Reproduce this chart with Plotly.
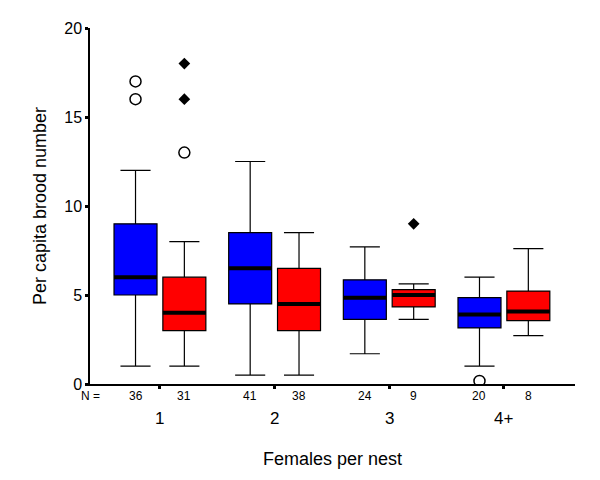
import plotly.graph_objects as go

groups = ["1", "2", "3", "4+"]
n_blue = [36, 41, 24, 20]
n_red = [31, 38, 9, 8]

blue_lower = [1.0, 0.5, 1.7, 1.0]
blue_q1 = [5.0, 4.5, 3.63, 3.15]
blue_med = [6.0, 6.5, 4.85, 3.9]
blue_q3 = [9.0, 8.5, 5.85, 4.85]
blue_upper = [12.0, 12.5, 7.7, 6.0]

red_lower = [1.0, 0.5, 3.63, 2.72]
red_q1 = [3.0, 3.0, 4.33, 3.56]
red_med = [4.0, 4.5, 5.0, 4.07]
red_q3 = [6.0, 6.5, 5.3, 5.22]
red_upper = [8.0, 8.5, 5.63, 7.6]

# outliers (group index, value)
blue_out_grp = [0, 0, 3]
blue_out_val = [16.0, 17.0, 0.17]
red_out_grp = [0]
red_out_val = [13.0]
red_ext_grp = [0, 0, 2]
red_ext_val = [16.0, 18.0, 9.0]

OFF = 0.213
W = 0.375
FONT = "Liberation Sans, Arial, Helvetica, sans-serif"

bx = [i - OFF for i in range(len(groups))]
rx = [i + OFF for i in range(len(groups))]

fig = go.Figure()

for xs, lo, q1, md, q3, up, col in [
    (bx, blue_lower, blue_q1, blue_med, blue_q3, blue_upper, "#0000FF"),
    (rx, red_lower, red_q1, red_med, red_q3, red_upper, "#FF0000"),
]:
    fig.add_trace(go.Box(
        x=xs, q1=q1, median=md, q3=q3, lowerfence=lo, upperfence=up,
        width=W, whiskerwidth=0.7, fillcolor=col,
        line=dict(color="black", width=1.2), boxpoints=False,
        showlegend=False, hoverinfo="skip",
    ))
    mx, my = [], []
    for x, m in zip(xs, md):
        mx += [x - W / 2, x + W / 2, None]
        my += [m, m, None]
    fig.add_trace(go.Scatter(x=mx, y=my, mode="lines",
                             line=dict(color="black", width=4),
                             showlegend=False, hoverinfo="skip"))

circ = dict(symbol="circle-open", size=11, color="black", line=dict(width=1.5, color="black"))
fig.add_trace(go.Scatter(x=[g - OFF for g in blue_out_grp], y=blue_out_val, mode="markers",
                         marker=circ, showlegend=False))
fig.add_trace(go.Scatter(x=[g + OFF for g in red_out_grp], y=red_out_val, mode="markers",
                         marker=circ, showlegend=False))
fig.add_trace(go.Scatter(x=[g + OFF for g in red_ext_grp], y=red_ext_val, mode="markers",
                         marker=dict(symbol="diamond", size=9, color="black"), showlegend=False))

ann = []
ann.append(dict(x=-0.61, y=-0.033, xref="x", yref="paper", text="N =", showarrow=False,
                font=dict(size=12, color="black", family=FONT), xanchor="center", yanchor="middle"))
for i in range(len(groups)):
    ann.append(dict(x=bx[i], y=-0.033, xref="x", yref="paper", text=str(n_blue[i]), showarrow=False,
                    font=dict(size=12, color="black", family=FONT), yanchor="middle"))
    ann.append(dict(x=rx[i], y=-0.033, xref="x", yref="paper", text=str(n_red[i]), showarrow=False,
                    font=dict(size=12, color="black", family=FONT), yanchor="middle"))
    ann.append(dict(x=i, y=-0.097, xref="x", yref="paper", text=groups[i], showarrow=False,
                    font=dict(size=17, color="black", family=FONT), yanchor="middle"))
ann.append(dict(x=0.5, y=-0.211, xref="paper", yref="paper", text="Females per nest", showarrow=False,
                font=dict(size=18, color="black", family=FONT), yanchor="middle"))
ann.append(dict(x=-0.103, y=0.5, xref="paper", yref="paper", text="Per capita brood number",
                textangle=-90, showarrow=False,
                font=dict(size=18, color="black", family=FONT), xanchor="center", yanchor="middle"))

fig.update_layout(
    width=600, height=480,
    margin=dict(l=82, r=33, t=16, b=104),
    paper_bgcolor="white", plot_bgcolor="white",
    boxmode="overlay", showlegend=False,
    font=dict(family=FONT, color="black"),
    annotations=ann,
    xaxis=dict(range=[-0.61, 3.62], tickvals=list(range(len(groups))), showticklabels=False,
               ticks="outside", ticklen=3, tickwidth=3, tickcolor="black",
               showline=True, linecolor="black", linewidth=1.5, showgrid=False, zeroline=False),
    yaxis=dict(range=[0, 20], tickvals=[0, 5, 10, 15, 20], ticks="outside", ticklen=3, tickwidth=3,
               tickcolor="black", tickfont=dict(size=16, color="black", family=FONT),
               showline=True, linecolor="black", linewidth=1.5, showgrid=False, zeroline=False),
)

fig.write_html("out.html")
